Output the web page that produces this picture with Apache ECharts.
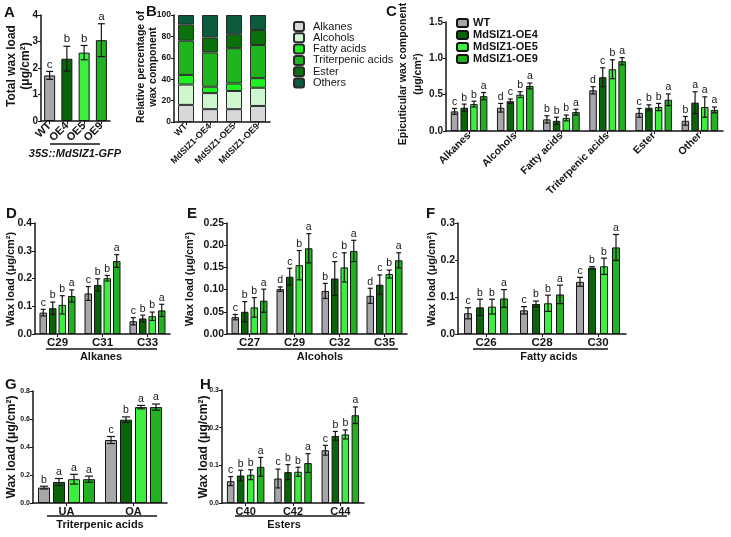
<!DOCTYPE html>
<html>
<head>
<meta charset="utf-8">
<script src="https://cdn.jsdelivr.net/npm/echarts@6.0.0/dist/echarts.min.js"></script>
<style>
  html, body { margin: 0; padding: 0; background: #fff; }
  #chart { width: 731px; height: 537px; }
</style>
</head>
<body>
<div id="chart"></div>
<script>
// ---- data ----
const lineNames = ['WT', 'MdSIZ1-OE4', 'MdSIZ1-OE5', 'MdSIZ1-OE9']

// A: total wax load
const totalCats = ['WT', 'OE4', 'OE5', 'OE9']
const totalWax = [1.72, 2.35, 2.58, 3.05]
const totalWaxErr = [0.15, 0.47, 0.27, 0.62]
const totalWaxSig = ['c', 'b', 'b', 'a']

// B: relative percentage (stacked)
const componentNames = ['Alkanes', 'Alcohols', 'Fatty acids', 'Triterpenic acids', 'Ester', 'Others']
const pctAlkanes = [16, 12, 12, 15]
const pctAlcohols = [19, 15, 17, 17]
const pctFatty = [9, 6, 7, 9]
const pctTriterp = [32, 32, 33, 31]
const pctEster = [15, 14, 13, 14]
const pctOthers = [9, 21, 18, 14]

// C: epicuticular wax component, rows = WT, OE4, OE5, OE9
const compCats = ['Alkanes', 'Alcohols', 'Fatty acids', 'Triterpenic acids', 'Ester', 'Other']
const compMean = [[0.27, 0.32, 0.16, 0.56, 0.25, 0.14], [0.32, 0.41, 0.14, 0.74, 0.32, 0.39], [0.37, 0.50, 0.18, 0.85, 0.33, 0.33], [0.48, 0.62, 0.26, 0.96, 0.43, 0.29]]
const compErr = [[0.04, 0.06, 0.05, 0.05, 0.06, 0.06], [0.05, 0.03, 0.05, 0.13, 0.04, 0.15], [0.04, 0.04, 0.04, 0.13, 0.05, 0.14], [0.05, 0.04, 0.04, 0.05, 0.08, 0.04]]
const compSig = [['c', 'd', 'b', 'd', 'c', 'b'], ['b', 'c', 'b', 'c', 'b', 'a'], ['b', 'b', 'b', 'b', 'b', 'a'], ['a', 'a', 'a', 'a', 'a', 'a']]

// D: alkanes
const alkCats = ['C29', 'C31', 'C33']
const alkMean = [[0.077, 0.146, 0.046], [0.093, 0.177, 0.056], [0.105, 0.201, 0.064], [0.137, 0.263, 0.085]]
const alkErr = [[0.012, 0.025, 0.013], [0.022, 0.022, 0.012], [0.033, 0.010, 0.015], [0.022, 0.023, 0.022]]
const alkSig = [['c', 'c', 'c'], ['b', 'b', 'b'], ['b', 'b', 'b'], ['a', 'a', 'a']]

// E: alcohols
const alcCats = ['C27', 'C29', 'C32', 'C35']
const alcMean = [[0.038, 0.101, 0.097, 0.086], [0.050, 0.129, 0.125, 0.111], [0.060, 0.155, 0.150, 0.135], [0.075, 0.193, 0.187, 0.166]]
const alcErr = [[0.006, 0.005, 0.017, 0.017], [0.023, 0.019, 0.038, 0.022], [0.022, 0.033, 0.033, 0.009], [0.026, 0.033, 0.024, 0.017]]
const alcSig = [['c', 'd', 'b', 'd'], ['b', 'c', 'c', 'c'], ['b', 'b', 'b', 'b'], ['a', 'a', 'a', 'a']]

// F: fatty acids
const fatCats = ['C26', 'C28', 'C30']
const fatMean = [[0.056, 0.064, 0.141], [0.072, 0.081, 0.179], [0.074, 0.083, 0.183], [0.096, 0.107, 0.234]]
const fatErr = [[0.015, 0.010, 0.012], [0.022, 0.008, 0.003], [0.020, 0.022, 0.022], [0.024, 0.025, 0.035]]
const fatSig = [['c', 'c', 'c'], ['b', 'b', 'b'], ['b', 'b', 'b'], ['a', 'a', 'a']]

// G: triterpenic acids
const triCats = ['UA', 'OA']
const triMean = [[0.11, 0.45], [0.15, 0.595], [0.17, 0.685], [0.17, 0.685]]
const triErr = [[0.01, 0.025], [0.025, 0.02], [0.035, 0.012], [0.022, 0.022]]
const triSig = [['b', 'c'], ['a', 'b'], ['a', 'a'], ['a', 'a']]

// H: esters
const estCats = ['C40', 'C42', 'C44']
const estMean = [[0.058, 0.065, 0.140], [0.073, 0.082, 0.178], [0.075, 0.083, 0.182], [0.096, 0.106, 0.233]]
const estErr = [[0.012, 0.025, 0.013], [0.014, 0.020, 0.012], [0.013, 0.012, 0.012], [0.025, 0.025, 0.022]]
const estSig = [['c', 'c', 'c'], ['b', 'b', 'b'], ['b', 'b', 'b'], ['a', 'a', 'a']]

// ---- styling ----
const FONT = '"Liberation Sans", Arial, sans-serif'
const INK = '#151515'
const lineColors = ['#a6a6ab', '#0a650a', '#3eee3e', '#21b121']
const compColors = ['#d8d8d8', '#cff7cf', '#1ff01f', '#1fb51f', '#0b720b', '#0b5c3c']

const grids = []
const xAxes = []
const yAxes = []
const series = []
const graphics = []

function addPanel(box, cats, yMax, yStep, digits, opt) {
  const idx = grids.length
  grids.push({ left: box[0], top: box[1], width: box[2], height: box[3] })
  xAxes.push({
    gridIndex: idx, type: 'category', data: cats,
    axisLine: { lineStyle: { color: INK, width: 1.5 } },
    axisTick: { show: true, alignWithLabel: true, length: 3, lineStyle: { color: INK } },
    axisLabel: { interval: 0, color: INK, fontFamily: FONT, fontWeight: 'bold', fontSize: opt.xFont, rotate: opt.rotate || 0, margin: opt.xMargin || 3 }
  })
  yAxes.push({
    gridIndex: idx, type: 'value', min: 0, max: yMax, interval: yStep,
    axisLine: { show: true, lineStyle: { color: INK, width: 1.5 } },
    axisTick: { show: true, length: 3, lineStyle: { color: INK } },
    splitLine: { show: false },
    axisLabel: { color: INK, fontFamily: FONT, fontWeight: 'bold', fontSize: opt.yFont, margin: 3, formatter: v => v.toFixed(digits) }
  })
  return idx
}

// error bars + significance letters, drawn through the axis scales
function addErrors(ax, means, errs, sigs, barW, gap, cap, fs) {
  const n = means.length
  const pts = []
  means.forEach((vals, l) => vals.forEach((v, c) => pts.push([c, v, errs[l][c], l])))
  series.push({
    type: 'custom', xAxisIndex: ax, yAxisIndex: ax, data: pts, z: 5, silent: true,
    encode: { x: 0, y: 1 },
    renderItem: (params, api) => {
      const c = api.value(0)
      const m = api.value(1)
      const e = api.value(2)
      const l = api.value(3)
      const total = n * barW + (n - 1) * gap
      const dx = -total / 2 + barW / 2 + l * (barW + gap)
      const top = api.coord([c, m + e])
      const bot = api.coord([c, m - e])
      const x = top[0] + dx
      const st = { stroke: INK, lineWidth: 1.2 }
      return {
        type: 'group',
        children: [
          { type: 'line', shape: { x1: x, y1: top[1], x2: x, y2: bot[1] }, style: st },
          { type: 'line', shape: { x1: x - cap, y1: top[1], x2: x + cap, y2: top[1] }, style: st },
          { type: 'line', shape: { x1: x - cap, y1: bot[1], x2: x + cap, y2: bot[1] }, style: st },
          { type: 'text', x: x, y: top[1] - 1, style: { text: sigs[l][c], fill: INK, fontFamily: FONT, fontSize: fs, align: 'center', verticalAlign: 'bottom' } }
        ]
      }
    }
  })
}

function addGrouped(ax, tag, means, errs, sigs, barW, gap, cap, fs) {
  means.forEach((vals, l) => {
    series.push({
      type: 'bar', name: tag + lineNames[l], xAxisIndex: ax, yAxisIndex: ax, data: vals,
      barWidth: barW, barGap: (gap / barW * 100) + '%',
      itemStyle: { color: lineColors[l], borderColor: INK, borderWidth: 1 }
    })
  })
  addErrors(ax, means, errs, sigs, barW, gap, cap, fs)
}

function txt(x, y, text, size, extra) {
  graphics.push({
    type: 'text', x: x, y: y,
    style: Object.assign({ text: text, fill: INK, fontFamily: FONT, fontWeight: 'bold', fontSize: size, align: 'center', verticalAlign: 'middle' }, extra || {})
  })
}
function vtxt(x, y, text, size, lh) {
  graphics.push({ type: 'text', x: x, y: y, rotation: Math.PI / 2,
    style: { text: text, fill: INK, fontFamily: FONT, fontWeight: 'bold', fontSize: size, lineHeight: lh || size + 2, align: 'center', verticalAlign: 'middle' } })
}
function uline(x1, x2, y) {
  graphics.push({ type: 'line', shape: { x1: x1, y1: y, x2: x2, y2: y }, style: { stroke: INK, lineWidth: 1.5 } })
}
function letter(x, y, t) {
  graphics.push({ type: 'text', x: x, y: y, style: { text: t, fill: INK, fontFamily: FONT, fontWeight: 'bold', fontSize: 15, align: 'left', verticalAlign: 'top' } })
}

// ---- A ----
const axA = addPanel([41, 15, 69, 106], totalCats, 4, 1, 0, { xFont: 11, yFont: 10, rotate: 45 })
series.push({
  type: 'bar', name: 'total', xAxisIndex: axA, yAxisIndex: axA, barWidth: 11,
  data: totalWax.map((v, i) => ({ value: v, itemStyle: { color: lineColors[i] } })),
  itemStyle: { borderColor: INK, borderWidth: 1 }
})
addErrors(axA, [totalWax], [totalWaxErr], [totalWaxSig], 11, 0, 3.5, 11.5)
uline(50, 100, 144)
txt(75, 154, '35S::MdSIZ1-GFP', 11, { fontStyle: 'italic' })
vtxt(19, 66, 'Total wax load\n(μg/cm²)', 12, 14)
letter(4, 5, 'A')

// ---- B ----
const axB = addPanel([174, 15, 96, 107], lineNames, 100, 20, 0, { xFont: 9, yFont: 8.5, rotate: 45 })
const pctRows = [pctAlkanes, pctAlcohols, pctFatty, pctTriterp, pctEster, pctOthers]
pctRows.forEach((vals, k) => {
  series.push({
    type: 'bar', name: componentNames[k], stack: 'pct', xAxisIndex: axB, yAxisIndex: axB, data: vals, barWidth: 16,
    itemStyle: { color: compColors[k], borderColor: '#2a2a2a', borderWidth: 1 }
  })
})
vtxt(147, 67, 'Relative percentage of\nwax component', 10.5, 12)
letter(146, 4, 'B')

// ---- C ----
const axC = addPanel([446, 22, 277, 109], compCats, 1.5, 0.5, 1, { xFont: 10.5, yFont: 10, rotate: 45 })
addGrouped(axC, '', compMean, compErr, compSig, 7.5, 2.2, 2.5, 10.5)
vtxt(411, 74, 'Epicuticular wax component\n(μg/cm²)', 10.5, 15)
letter(386, 4, 'C')

// ---- D ----
const axD = addPanel([35, 223, 135, 111], alkCats, 0.4, 0.1, 1, { xFont: 11.5, yFont: 10.5 })
addGrouped(axD, 'D ', alkMean, alkErr, alkSig, 7.5, 2, 2.5, 10.5)
uline(46, 157, 349)
txt(101, 357, 'Alkanes', 11)
vtxt(11, 279, 'Wax load (μg/cm²)', 11)
letter(6, 206, 'D')

// ---- E ----
const axE = addPanel([227, 223, 180, 111], alcCats, 0.25, 0.05, 2, { xFont: 11.5, yFont: 10.5 })
addGrouped(axE, 'E ', alcMean, alcErr, alcSig, 7.5, 2, 2.5, 10.5)
uline(237, 398, 349)
txt(320, 357, 'Alcohols', 11)
vtxt(190, 279, 'Wax load (μg/cm²)', 11)
letter(187, 206, 'E')

// ---- F ----
const axF = addPanel([458, 223, 168, 111], fatCats, 0.3, 0.1, 1, { xFont: 11.5, yFont: 10.5 })
addGrouped(axF, 'F ', fatMean, fatErr, fatSig, 8, 4, 3, 10.5)
uline(473, 608, 349)
txt(549, 357, 'Fatty acids', 11)
vtxt(432, 279, 'Wax load (μg/cm²)', 11)
letter(426, 206, 'F')

// ---- G ----
const axG = addPanel([33, 391, 134, 112], triCats, 0.8, 0.2, 1, { xFont: 11, yFont: 7 })
addGrouped(axG, 'G ', triMean, triErr, triSig, 12, 3, 4, 10.5)
uline(47, 157, 516)
txt(100, 525, 'Triterpenic acids', 11)
vtxt(12, 447, 'Wax load (μg/cm²)', 12)
letter(5, 377, 'G')

// ---- H ----
const axH = addPanel([222, 390, 142, 113], estCats, 0.3, 0.1, 1, { xFont: 11, yFont: 7 })
addGrouped(axH, 'H ', estMean, estErr, estSig, 7.5, 2.5, 2.5, 10.5)
uline(235, 347, 516)
txt(284, 525, 'Esters', 11)
vtxt(204, 447, 'Wax load (μg/cm²)', 12)
letter(200, 377, 'H')

const chart = echarts.init(document.getElementById('chart'))
chart.setOption({
  backgroundColor: '#fff',
  animation: false,
  grid: grids,
  xAxis: xAxes,
  yAxis: yAxes,
  legend: [
    {
      data: componentNames, orient: 'vertical', left: 288, top: 16, selectedMode: false,
      itemWidth: 10, itemHeight: 9, itemGap: 0.3,
      textStyle: { fontFamily: FONT, fontSize: 11, color: INK, lineHeight: 11, padding: [0, 0, 0, 4] }
    },
    {
      data: lineNames, orient: 'vertical', left: 451, top: 12, selectedMode: false,
      itemWidth: 11, itemHeight: 8, itemGap: 0,
      textStyle: { fontFamily: FONT, fontSize: 11, fontWeight: 'bold', color: INK, lineHeight: 12 }
    }
  ],
  series: series,
  graphic: graphics
})
</script>
</body>
</html>
